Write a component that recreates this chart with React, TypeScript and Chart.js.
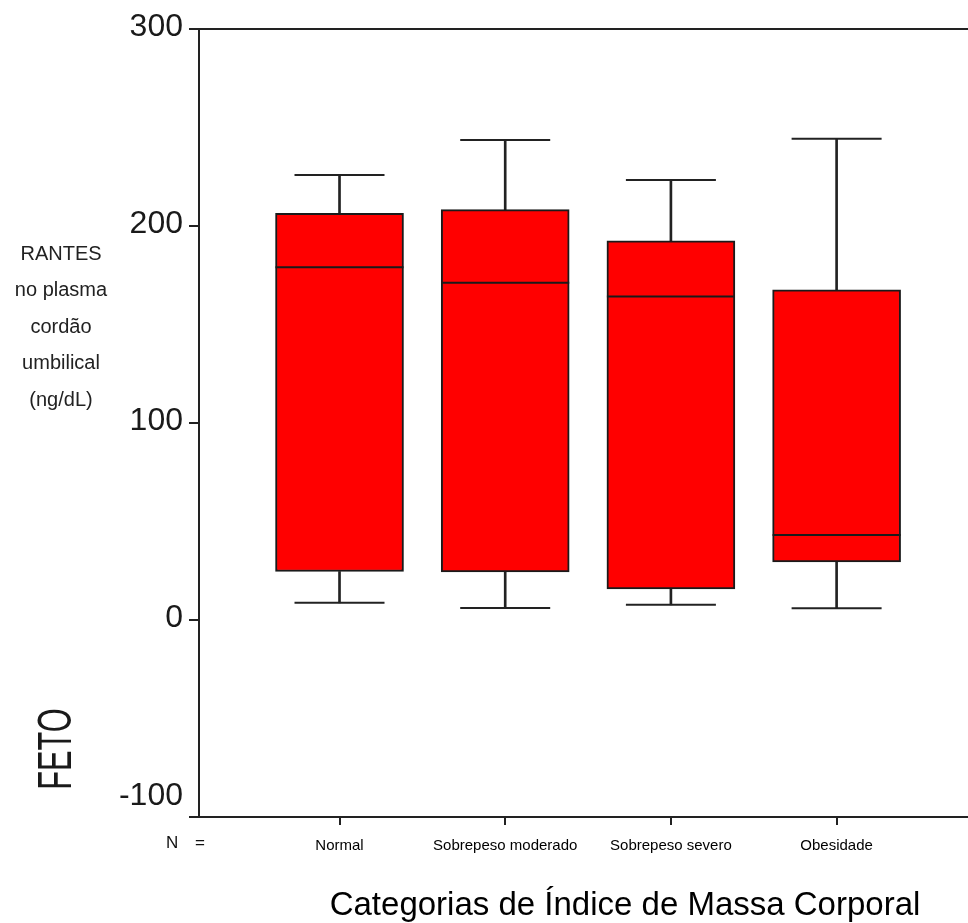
import React, { useEffect, useRef } from "react";
import { Chart, registerables } from "chart.js";

Chart.register(...registerables);

const categories = ["Normal", "Sobrepeso moderado", "Sobrepeso severo", "Obesidade"];
const categoryPositions = [1, 2, 3, 4];
const whiskerLow = [8.7, 6.1, 7.7, 6.0];
const q1 = [24.6, 24.4, 15.8, 29.5];
const median = [179.0, 171.2, 164.2, 43.2];
const q3 = [206.4, 208.3, 192.5, 167.6];
const whiskerHigh = [225.9, 243.6, 223.4, 244.3];
const yTicks = [-100, 0, 100, 200, 300];
const yTitleLines = ["RANTES", "no plasma", "cordão", "umbilical", "(ng/dL)"];
const xTitle = "Categorias de Índice de Massa Corporal";
const sideLabel = "FETO";
const nLabel = "N =";

const FONT = '"Liberation Sans", Arial, sans-serif';
const LINE = "#222222";
const RED = "#ff0000";

const textPlugin = {
  id: "textPlugin",
  afterDraw(chart: any) {
    const ctx = chart.ctx;
    ctx.save();
    ctx.fillStyle = "#222222";
    ctx.textAlign = "center";
    ctx.textBaseline = "middle";
    ctx.font = `20px ${FONT}`;
    yTitleLines.forEach((t, i) => {
      ctx.fillText(t, 61, 254 + i * 36.5);
    });
    // FETO rotated
    ctx.save();
    ctx.translate(58, 749);
    ctx.rotate(-Math.PI / 2);
    ctx.scale(0.64, 1);
    ctx.font = `48px ${FONT}`;
    ctx.fillStyle = "#1a1a1a";
    ctx.fillText(sideLabel, 0, 0);
    ctx.restore();
    // N =
    ctx.save();
    ctx.textAlign = "left";
    ctx.font = `17px ${FONT}`;
    ctx.fillStyle = "#111";
    try {
      (ctx as any).letterSpacing = "6px";
    } catch (e) {}
    ctx.fillText(nLabel, 166, 843);
    ctx.restore();
    // x title
    ctx.textAlign = "center";
    ctx.textBaseline = "alphabetic";
    ctx.font = `33px ${FONT}`;
    ctx.fillStyle = "#000";
    ctx.fillText(xTitle, 625, 915);
    ctx.restore();
  },
};

const zeroPad = (scale: any) => {
  scale.paddingTop = 0;
  scale.paddingBottom = 0;
  scale.paddingLeft = 0;
  scale.paddingRight = 0;
};

export default function App() {
  const canvasRef = useRef<HTMLCanvasElement | null>(null);

  useEffect(() => {
    if (!canvasRef.current) return;
    const pts = (arr: number[]) => arr.map((v, i) => ({ x: categoryPositions[i], y: v }));
    const range = (a: number[], b: number[]) =>
      a.map((v, i) => ({ x: categoryPositions[i], y: [v, b[i]] }));

    const chart = new Chart(canvasRef.current, {
      type: "bar",
      data: {
        datasets: [
          {
            type: "bar",
            data: range(q3, whiskerHigh) as any,
            backgroundColor: LINE,
            borderWidth: 0,
            barThickness: 2,
            grouped: false,
            order: 4,
          } as any,
          {
            type: "bar",
            data: range(whiskerLow, q1) as any,
            backgroundColor: LINE,
            borderWidth: 0,
            barThickness: 2,
            grouped: false,
            order: 4,
          } as any,
          {
            type: "bar",
            data: range(q1, q3) as any,
            backgroundColor: RED,
            borderColor: "#1a1a1a",
            borderWidth: 2,
            borderSkipped: false,
            barThickness: 128,
            grouped: false,
            order: 3,
          } as any,
          {
            type: "scatter",
            data: pts(median),
            pointStyle: "line",
            pointRadius: 64,
            pointHoverRadius: 64,
            borderColor: "#1a1a1a",
            pointBorderColor: "#1a1a1a",
            pointBorderWidth: 2,
            order: 1,
          } as any,
          {
            type: "scatter",
            data: [...pts(whiskerHigh), ...pts(whiskerLow)],
            pointStyle: "line",
            pointRadius: 45,
            pointHoverRadius: 45,
            borderColor: LINE,
            pointBorderColor: LINE,
            pointBorderWidth: 2,
            order: 1,
          } as any,
        ],
      },
      options: {
        animation: false,
        responsive: true,
        maintainAspectRatio: false,
        layout: { autoPadding: false, padding: { top: 29, right: 0, left: 0, bottom: 0 } },
        plugins: {
          legend: { display: false },
          tooltip: { enabled: false },
        },
        scales: {
          x: {
            type: "linear",
            min: 0.152,
            max: 4.793,
            offset: false,
            grid: {
              offset: false,
              drawOnChartArea: false,
              drawTicks: true,
              tickLength: 8,
              tickColor: LINE,
              color: LINE,
              lineWidth: 2,
            },
            border: { display: true, color: LINE, width: 2 },
            afterBuildTicks: (scale: any) => {
              scale.ticks = categoryPositions.map((v) => ({ value: v }));
            },
            afterFit: (scale: any) => {
              scale.height = 106;
              zeroPad(scale);
            },
            ticks: {
              autoSkip: false,
              maxRotation: 0,
              minRotation: 0,
              padding: 12,
              color: "#000",
              font: { family: FONT, size: 15 },
              callback: (v: any) => {
                const i = categoryPositions.indexOf(Number(v));
                return i >= 0 ? categories[i] : "";
              },
            },
          } as any,
          y: {
            type: "linear",
            min: -100,
            max: 300,
            afterBuildTicks: (scale: any) => {
              scale.ticks = yTicks.map((v) => ({ value: v }));
            },
            afterFit: (scale: any) => {
              scale.width = 199;
              zeroPad(scale);
            },
            grid: {
              drawOnChartArea: true,
              drawTicks: true,
              tickLength: 10,
              tickColor: LINE,
              lineWidth: 2,
              color: (c: any) => (c.tick && c.tick.value === 300 ? LINE : "rgba(0,0,0,0)"),
            },
            border: { display: true, color: LINE, width: 2 },
            ticks: {
              padding: 6,
              labelOffset: -2,
              color: "#1a1a1a",
              font: { family: FONT, size: 32 },
              callback: (v: any) => (Number(v) === -100 ? [String(v), ""] : String(v)),
            },
          } as any,
        },
      },
      plugins: [textPlugin],
    });
    return () => chart.destroy();
  }, []);

  return (
    <div style={{ position: "absolute", left: 0, top: 0, width: 968, height: 923, background: "#fff" }}>
      <canvas ref={canvasRef} />
    </div>
  );
}
